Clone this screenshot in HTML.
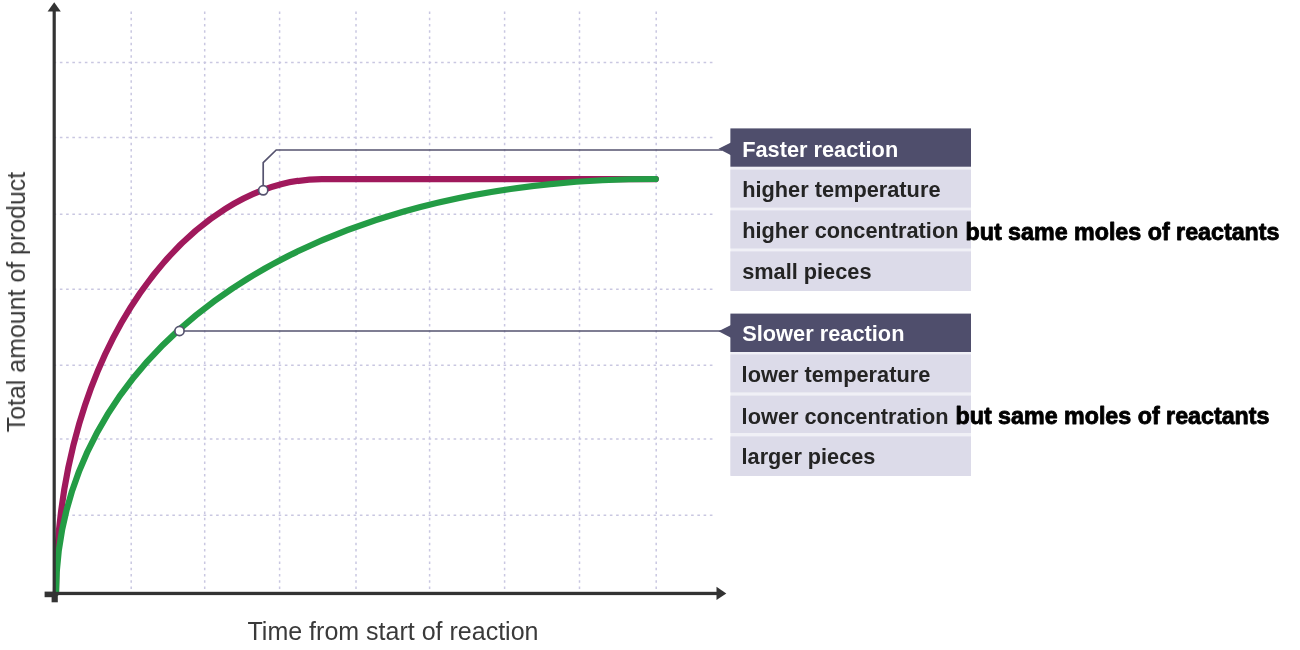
<!DOCTYPE html>
<html lang="en"><head><meta charset="utf-8"><title>Rate of reaction graph</title>
<style>
html,body{margin:0;padding:0;background:#fff;}
body{width:1300px;height:650px;overflow:hidden;position:relative;}
svg{position:absolute;left:0;top:0;display:block;}
text{font-family:"Liberation Sans",Arial,Helvetica,sans-serif;}
.b{font-weight:bold;}
</style></head><body>
<svg width="1300" height="650" viewBox="0 0 1300 650">
<defs><filter id="soft" x="0" y="0" width="1300" height="650" filterUnits="userSpaceOnUse" color-interpolation-filters="sRGB"><feGaussianBlur stdDeviation="0.5"/></filter></defs>
<rect width="1300" height="650" fill="#fff"/>
<g filter="url(#soft)">

<g stroke="#c9c7e1" stroke-width="1.5" stroke-dasharray="2.6 3.65" fill="none">
<line x1="131.2" y1="11.5" x2="131.2" y2="592"/>
<line x1="204.7" y1="11.5" x2="204.7" y2="592"/>
<line x1="279.6" y1="11.5" x2="279.6" y2="592"/>
<line x1="356.0" y1="11.5" x2="356.0" y2="592"/>
<line x1="429.6" y1="11.5" x2="429.6" y2="592"/>
<line x1="504.6" y1="11.5" x2="504.6" y2="592"/>
<line x1="579.5" y1="11.5" x2="579.5" y2="592"/>
<line x1="656.2" y1="11.5" x2="656.2" y2="592"/>
<line x1="53.6" y1="62.5" x2="714" y2="62.5"/>
<line x1="53.6" y1="137.4" x2="714" y2="137.4"/>
<line x1="53.6" y1="214.2" x2="714" y2="214.2"/>
<line x1="53.6" y1="289.2" x2="714" y2="289.2"/>
<line x1="53.6" y1="365.2" x2="714" y2="365.2"/>
<line x1="53.6" y1="438.9" x2="714" y2="438.9"/>
<line x1="53.6" y1="515.3" x2="714" y2="515.3"/>
</g>
<path d="M56 593 C56 345.1 191.7 179.1 321.7 179.1 L655.8 179.1" fill="none" stroke="#a0195c" stroke-width="6.2" stroke-linecap="round"/>
<path d="M56 593 C57.2 365.7 278.3 179.0 655.8 179.0" fill="none" stroke="#239c45" stroke-width="6.2" stroke-linecap="round"/>
<g fill="#333333">
<rect x="52.6" y="10" width="3.2" height="585"/>
<polygon points="54.2,2.2 60.8,11.4 47.6,11.4"/>
<rect x="52.6" y="591.8" width="665" height="3.3"/>
<polygon points="726.3,593.4 716.5,586.8 716.5,600"/>
<rect x="44.6" y="591.6" width="10" height="5.6"/>
<rect x="51.6" y="593" width="6.2" height="9.3"/>
</g>
<g fill="none" stroke="#55536f" stroke-width="1.7">
<polyline points="263.2,190 263.2,162.6 276.2,150 722,150"/>
<line x1="180" y1="331" x2="722" y2="331"/>
</g>
<circle cx="263.2" cy="190.3" r="4.6" fill="#fff" stroke="#55536f" stroke-width="1.7"/>
<circle cx="179.5" cy="331" r="4.6" fill="#fff" stroke="#55536f" stroke-width="1.7"/>
<rect x="730.4" y="129.4" width="240.6" height="160.6" fill="#f0f0f6"/>
<rect x="730.4" y="128.4" width="240.6" height="38.3" fill="#4f4e6c"/>
<rect x="730.4" y="169.6" width="240.6" height="38.0" fill="#dcdbe9"/>
<rect x="730.4" y="210.4" width="240.6" height="38.1" fill="#dcdbe9"/>
<rect x="730.4" y="251.4" width="240.6" height="39.6" fill="#dcdbe9"/>
<polygon points="718.5,148.8 731,142.4 731,155.2" fill="#4f4e6c"/>
<text class="b" x="742.2" y="157.0" font-size="21.6" fill="#fff" textLength="156.0" lengthAdjust="spacingAndGlyphs">Faster reaction</text>
<text class="b" x="742.2" y="197.1" font-size="21.6" fill="#242424" textLength="198.3" lengthAdjust="spacingAndGlyphs">higher temperature</text>
<text class="b" x="742.2" y="237.7" font-size="21.6" fill="#242424" textLength="216.3" lengthAdjust="spacingAndGlyphs">higher concentration</text>
<text class="b" x="742.2" y="278.7" font-size="21.6" fill="#242424" textLength="129.3" lengthAdjust="spacingAndGlyphs">small pieces</text>
<rect x="730.4" y="314.6" width="240.6" height="160.4" fill="#f0f0f6"/>
<rect x="730.4" y="313.6" width="240.6" height="38.4" fill="#4f4e6c"/>
<rect x="730.4" y="354.4" width="240.6" height="38.0" fill="#dcdbe9"/>
<rect x="730.4" y="395.6" width="240.6" height="37.4" fill="#dcdbe9"/>
<rect x="730.4" y="436.4" width="240.6" height="39.6" fill="#dcdbe9"/>
<polygon points="718.5,331.3 731,324.9 731,337.7" fill="#4f4e6c"/>
<text class="b" x="742.2" y="341.0" font-size="21.6" fill="#fff" textLength="162.3" lengthAdjust="spacingAndGlyphs">Slower reaction</text>
<text class="b" x="741.6" y="382.3" font-size="21.6" fill="#242424" textLength="188.7" lengthAdjust="spacingAndGlyphs">lower temperature</text>
<text class="b" x="741.6" y="423.6" font-size="21.6" fill="#242424" textLength="206.9" lengthAdjust="spacingAndGlyphs">lower concentration</text>
<text class="b" x="741.6" y="464.4" font-size="21.6" fill="#242424" textLength="133.7" lengthAdjust="spacingAndGlyphs">larger pieces</text>
<text class="b" x="965.5" y="240.2" font-size="24.8" fill="#000" stroke="#000" stroke-width="0.9" stroke-linejoin="round" textLength="314" lengthAdjust="spacingAndGlyphs">but same moles of reactants</text>
<text class="b" x="955.5" y="424.2" font-size="24.8" fill="#000" stroke="#000" stroke-width="0.9" stroke-linejoin="round" textLength="314" lengthAdjust="spacingAndGlyphs">but same moles of reactants</text>
<text x="247.5" y="639.7" font-size="25" fill="#3a3a3a" textLength="291" lengthAdjust="spacingAndGlyphs">Time from start of reaction</text>
<text transform="translate(25.0 432.3) rotate(-90)" font-size="25.6" fill="#3a3a3a" textLength="260.5" lengthAdjust="spacingAndGlyphs">Total amount of product</text>
</g>
</svg>
</body></html>
